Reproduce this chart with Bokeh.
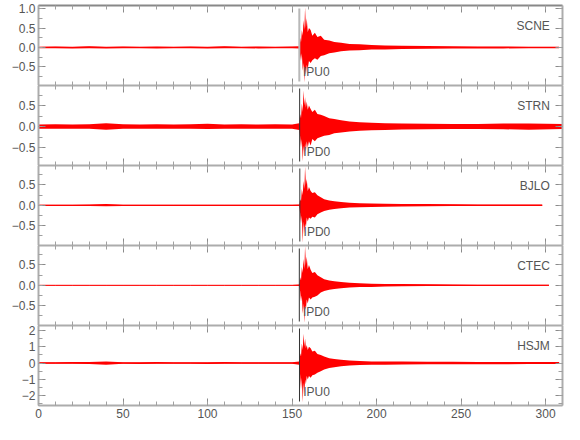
from bokeh.plotting import figure
from bokeh.layouts import column
from bokeh.models import Range1d, LinearAxis, SingleIntervalTicker, Label, ColumnDataSource
from bokeh.embed import file_html
from bokeh.resources import INLINE

# ---------------- data ----------------
stations = ["SCNE", "STRN", "BJLO", "CTEC", "HSJM"]
pick_labels = ["IPU0", "IPD0", "IPD0", "IPD0", "IPU0"]
pick_times = [154.3, 154.5, 154.6, 154.3, 154.4]
end_times = [308, 310, 298, 302, 308]

# shared knot times (s) of the amplitude envelopes
t_knots = [0, 10, 20, 30, 40, 50, 60, 70, 80, 90, 100, 110, 120, 130, 140, 150,
           154.3, 154.8, 155.3, 155.8, 156.3, 156.8, 157.3, 157.7, 158.2, 158.7, 159.3, 160,
           161, 162, 163.5, 165, 167, 169, 172, 175, 179, 184, 190, 197, 205, 215, 230, 245,
           260, 275, 290]

scne_hi = [0.02, 0.025, 0.02, 0.03, 0.02, 0.025, 0.02, 0.025, 0.02, 0.025, 0.02, 0.03, 0.02, 0.025, 0.02, 0.025,
           0.03, 0.25, 0.12, 0.45, 0.3, 0.7, 0.45, 1.03, 0.5, 0.75, 0.4, 0.5,
           0.45, 0.3, 0.38, 0.27, 0.3, 0.2, 0.18, 0.14, 0.12, 0.09, 0.08, 0.06, 0.05, 0.045, 0.035, 0.03,
           0.025, 0.025, 0.02, 0.02]
scne_lo = [-0.02, -0.02, -0.025, -0.02, -0.025, -0.02, -0.02, -0.025, -0.02, -0.02, -0.025, -0.02, -0.02, -0.025, -0.02, -0.02,
           -0.03, -0.2, -0.35, -0.15, -0.6, -0.4, -0.9, -0.5, -0.7, -0.45, -0.55, -0.35,
           -0.4, -0.33, -0.28, -0.32, -0.22, -0.2, -0.15, -0.13, -0.1, -0.08, -0.07, -0.055, -0.05, -0.04, -0.035, -0.03,
           -0.025, -0.025, -0.02, -0.02]

strn_hi = [0.05, 0.055, 0.05, 0.055, 0.08, 0.055, 0.05, 0.055, 0.05, 0.055, 0.065, 0.05, 0.055, 0.05, 0.055, 0.05,
           0.08, 0.3, 0.2, 0.55, 0.35, 0.86, 0.5, 0.7, 0.45, 0.6, 0.4, 0.5,
           0.42, 0.35, 0.4, 0.3, 0.28, 0.25, 0.2, 0.18, 0.15, 0.12, 0.1, 0.09, 0.08, 0.07, 0.065, 0.06,
           0.06, 0.07, 0.075, 0.06]
strn_lo = [-0.05, -0.05, -0.055, -0.05, -0.075, -0.05, -0.055, -0.05, -0.055, -0.05, -0.06, -0.055, -0.05, -0.055, -0.05, -0.055,
           -0.08, -0.25, -0.5, -0.3, -0.83, -0.45, -0.7, -0.4, -0.6, -0.35, -0.5, -0.35,
           -0.45, -0.3, -0.35, -0.28, -0.25, -0.22, -0.2, -0.16, -0.14, -0.12, -0.1, -0.09, -0.08, -0.07, -0.065, -0.06,
           -0.06, -0.065, -0.075, -0.06]

bjlo_hi = [0.015, 0.015, 0.015, 0.02, 0.03, 0.015, 0.015, 0.015, 0.015, 0.015, 0.015, 0.015, 0.015, 0.015, 0.015, 0.015,
           0.02, 0.15, 0.1, 0.4, 0.25, 0.6, 0.4, 0.95, 0.5, 0.65, 0.35, 0.45,
           0.35, 0.3, 0.32, 0.25, 0.2, 0.15, 0.12, 0.1, 0.08, 0.06, 0.05, 0.045, 0.04, 0.035, 0.03, 0.025,
           0.02, 0.02, 0.02, 0.02]
bjlo_lo = [-0.015, -0.015, -0.015, -0.02, -0.025, -0.015, -0.015, -0.015, -0.015, -0.015, -0.015, -0.015, -0.015, -0.015, -0.015, -0.015,
           -0.02, -0.2, -0.45, -0.25, -0.92, -0.4, -0.7, -0.45, -0.55, -0.3, -0.4, -0.3,
           -0.33, -0.28, -0.3, -0.22, -0.18, -0.14, -0.11, -0.09, -0.07, -0.055, -0.05, -0.04, -0.035, -0.03, -0.025, -0.02,
           -0.02, -0.02, -0.02, -0.02]

ctec_hi = [0.008, 0.008, 0.008, 0.008, 0.008, 0.008, 0.008, 0.008, 0.008, 0.008, 0.008, 0.008, 0.008, 0.008, 0.008, 0.008,
           0.02, 0.2, 0.12, 0.45, 0.3, 0.65, 0.4, 0.97, 0.5, 0.7, 0.4, 0.5,
           0.38, 0.3, 0.33, 0.25, 0.2, 0.15, 0.12, 0.1, 0.08, 0.06, 0.05, 0.04, 0.035, 0.03, 0.025, 0.02,
           0.015, 0.015, 0.015, 0.012]
ctec_lo = [-0.008, -0.008, -0.008, -0.008, -0.008, -0.008, -0.008, -0.008, -0.008, -0.008, -0.008, -0.008, -0.008, -0.008, -0.008, -0.008,
           -0.02, -0.15, -0.4, -0.25, -0.7, -0.45, -0.93, -0.5, -0.6, -0.35, -0.45, -0.3,
           -0.35, -0.3, -0.28, -0.25, -0.18, -0.14, -0.11, -0.09, -0.07, -0.055, -0.045, -0.04, -0.03, -0.025, -0.02, -0.02,
           -0.015, -0.015, -0.015, -0.012]

hsjm_hi = [0.05, 0.05, 0.06, 0.07, 0.1, 0.05, 0.05, 0.06, 0.05, 0.05, 0.05, 0.06, 0.05, 0.05, 0.05, 0.05,
           0.1, 0.6, 0.4, 1.2, 0.8, 1.8, 1.0, 1.5, 0.9, 1.1, 0.8, 1.0,
           0.9, 0.7, 0.75, 0.55, 0.5, 0.4, 0.3, 0.25, 0.2, 0.15, 0.12, 0.1, 0.1, 0.09, 0.08, 0.08,
           0.07, 0.07, 0.06, 0.06]
hsjm_lo = [-0.05, -0.05, -0.05, -0.06, -0.1, -0.05, -0.06, -0.05, -0.05, -0.05, -0.06, -0.05, -0.05, -0.05, -0.05, -0.05,
           -0.1, -0.8, -1.6, -0.9, -2.4, -1.2, -1.9, -1.0, -1.3, -0.8, -1.0, -0.8,
           -0.9, -0.75, -0.7, -0.6, -0.5, -0.4, -0.3, -0.25, -0.2, -0.15, -0.12, -0.1, -0.1, -0.09, -0.08, -0.08,
           -0.07, -0.07, -0.06, -0.06]

upper = [scne_hi, strn_hi, bjlo_hi, ctec_hi, hsjm_hi]
lower = [scne_lo, strn_lo, bjlo_lo, ctec_lo, hsjm_lo]

# axis settings
x_range = (0, 310)
y_limits = [(-0.98, 1.08), (-0.93, 0.98), (-0.99, 0.98), (-0.99, 0.98), (-2.6, 2.3)]
y_tick_step = [0.5, 0.5, 0.5, 0.5, 1.0]
small_tick_labels = {-0.5: "\u22120.5", 0: "0.0", 0.5: "0.5", 1: "1.0"}
big_tick_labels = {-2: "\u22122", -1: "\u22121", 0: "0", 1: "1", 2: "2"}

# ---------------- styling ----------------
FONT = "Liberation Sans"
RED = "#ff0000"
TXT = "#555555"
pick_colors = ["#b8b8b8", "#333333", "#333333", "#333333", "#333333"]
pick_widths = [2, 1, 1, 1, 1]


def style_axis(ax, labels):
    ax.axis_line_color = "#acacac"
    ax.axis_line_width = 2
    ax.major_tick_line_color = "#8a8a8a"
    ax.minor_tick_line_color = "#a0a0a0"
    ax.major_tick_in = 7
    ax.major_tick_out = 0
    ax.minor_tick_in = 4
    ax.minor_tick_out = 0
    ax.major_label_text_font = FONT
    if labels:
        ax.major_label_text_color = TXT
        ax.major_label_text_font_size = "12px"
        ax.major_label_standoff = 3
    else:
        ax.major_label_text_color = None
        ax.major_label_text_font_size = "0px"
        ax.major_label_standoff = 0


panels = []
n = len(stations)
for i, name in enumerate(stations):
    ylo, yhi = y_limits[i]
    last = (i == n - 1)
    p = figure(frame_width=524, frame_height=80,
               x_range=Range1d(*x_range), y_range=Range1d(ylo, yhi),
               output_backend="svg", toolbar_location=None,
               min_border_left=38, min_border_right=10,
               min_border_top=5 if i == 0 else 0, min_border_bottom=0,
               outline_line_color=None, background_fill_color="white")
    p.grid.visible = False

    xt = SingleIntervalTicker(interval=50, num_minor_ticks=5)
    yt = SingleIntervalTicker(interval=y_tick_step[i], num_minor_ticks=2)
    p.xaxis.ticker = xt
    p.yaxis.ticker = yt
    style_axis(p.xaxis[0], last)
    style_axis(p.yaxis[0], True)
    p.yaxis[0].major_label_overrides = big_tick_labels if last else small_tick_labels
    top_ax = LinearAxis(ticker=xt)
    style_axis(top_ax, False)
    if i == 0:
        top_ax.axis_line_color = "#888888"
    p.add_layout(top_ax, "above")
    right_ax = LinearAxis(ticker=yt)
    style_axis(right_ax, False)
    p.add_layout(right_ax, "right")

    t = list(t_knots) + [end_times[i]]
    hi = upper[i]
    lo = lower[i]
    mid = [(a + b) / 2 for a, b in zip(hi, lo)]
    src = ColumnDataSource(dict(t=t, hi=hi, lo=lo, mid=mid))
    p.varea(x="t", y1="lo", y2="hi", source=src, fill_color=RED, fill_alpha=1.0)
    p.line(x="t", y="mid", source=src, line_color=RED, line_width=1)

    span = yhi - ylo
    pk = pick_times[i]
    p.segment(x0=[pk], y0=[ylo + span * 4 / 80], x1=[pk], y1=[yhi - span * 3 / 80],
              line_color=pick_colors[i], line_width=pick_widths[i])

    p.add_layout(Label(x=pk + 2.2, y=ylo + span * 14 / 80, text=pick_labels[i],
                       text_font=FONT, text_font_size="12px", text_color=TXT,
                       text_align="left", text_baseline="middle"))
    p.add_layout(Label(x=302.5, y=yhi - span * 20 / 80, text=name,
                       text_font=FONT, text_font_size="12px", text_color=TXT,
                       text_align="right", text_baseline="middle"))
    panels.append(p)

layout = column(*panels, spacing=0)
open("out.html", "w").write(file_html(layout, INLINE))
